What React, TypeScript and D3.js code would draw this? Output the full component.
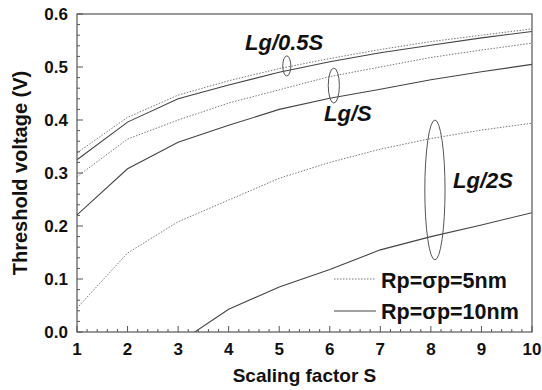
import React from 'react';
import * as d3 from 'd3';

const scaleS = [1, 2, 3, 4, 5, 6, 7, 8, 9, 10];

// Lg/0.5S
const half5nm = [0.338, 0.405, 0.447, 0.474, 0.497, 0.516, 0.533, 0.548, 0.56, 0.572];
const half10nm = [0.325, 0.396, 0.44, 0.466, 0.49, 0.51, 0.527, 0.541, 0.555, 0.567];
// Lg/S
const full5nm = [0.293, 0.364, 0.4, 0.432, 0.457, 0.482, 0.5, 0.518, 0.532, 0.545];
const full10nm = [0.221, 0.308, 0.358, 0.39, 0.42, 0.441, 0.458, 0.476, 0.491, 0.505];
// Lg/2S
const double5nm = [0.045, 0.149, 0.208, 0.249, 0.29, 0.32, 0.345, 0.365, 0.381, 0.394];
const double10nm = [-0.02, -0.02, -0.021, 0.043, 0.085, 0.118, 0.155, 0.18, 0.202, 0.225];

const seriesList = [
  { values: half5nm, dotted: true },
  { values: half10nm, dotted: false },
  { values: full5nm, dotted: true },
  { values: full10nm, dotted: false },
  { values: double5nm, dotted: true },
  { values: double10nm, dotted: false },
];

// ellipse groups, centre and radii in data units
const groups = [
  { label: 'Lg/0.5S', cx: 5.15, cy: 0.502, rx: 0.08, ry: 0.019, tx: 245, ty: 50 },
  { label: 'Lg/S', cx: 6.08, cy: 0.465, rx: 0.11, ry: 0.033, tx: 324, ty: 121 },
  { label: 'Lg/2S', cx: 8.08, cy: 0.268, rx: 0.2, ry: 0.132, tx: 453, ty: 188 },
];

const yTicks = [0, 0.1, 0.2, 0.3, 0.4, 0.5, 0.6];
const legendLabels = ['Rp=σp=5nm', 'Rp=σp=10nm'];

const W = 542, H = 390;
const m = { left: 77, right: 10, top: 14, bottom: 58 };
const FONT = 'Arial, "Liberation Sans", sans-serif';

export default function App() {
  const x = d3.scaleLinear().domain([1, 10]).range([m.left, W - m.right]);
  const y = d3.scaleLinear().domain([0, 0.6]).range([H - m.bottom, m.top]);
  const line = d3.line<number>().x((_, i) => x(scaleS[i])).y(d => y(d));

  const xMinor = d3.range(1, 10.001, 0.2);
  const yMinor = d3.range(0, 0.6001, 0.02);
  const x0 = x(1), x1 = x(10), y0 = y(0), y1 = y(0.6);

  return (
    <svg width={W} height={H} style={{ position: 'absolute', left: 0, top: 0, background: '#fff' }}>
      <defs>
        <clipPath id="plot">
          <rect x={x0} y={y1} width={x1 - x0} height={y0 - y1} />
        </clipPath>
      </defs>

      <g clipPath="url(#plot)">
        {seriesList.map((s, i) => (
          <path key={i} d={line(s.values) || ''} fill="none"
            stroke={s.dotted ? '#777' : '#444'} strokeWidth={s.dotted ? 1 : 1.1}
            strokeDasharray={s.dotted ? '1.5,1.5' : undefined} />
        ))}
      </g>

      {/* ticks point inward, major every 1 / 0.1 */}
      {xMinor.map((t, i) => {
        const major = Math.abs(t - Math.round(t)) < 1e-6;
        return <line key={'xt' + i} x1={x(t)} x2={x(t)} y1={y0} y2={y0 - (major ? 6 : 3)} stroke="#555" />;
      })}
      {yMinor.map((t, i) => {
        const major = Math.abs(t * 10 - Math.round(t * 10)) < 1e-6;
        return <line key={'yt' + i} x1={x0} x2={x0 + (major ? 6 : 3)} y1={y(t)} y2={y(t)} stroke="#555" />;
      })}

      <rect x={x0} y={y1} width={x1 - x0} height={y0 - y1} fill="none" stroke="#555" strokeWidth={1.2} />

      {scaleS.map(t => (
        <text key={'xl' + t} x={x(t)} y={y0 + 23} textAnchor="middle" fontFamily={FONT}
          fontWeight="bold" fontSize={17} fill="#111">{t}</text>
      ))}
      {yTicks.map(t => (
        <text key={'yl' + t} x={x0 - 9} y={y(t) + 6} textAnchor="end" fontFamily={FONT}
          fontWeight="bold" fontSize={17} fill="#111">{t.toFixed(1)}</text>
      ))}

      <text x={(x0 + x1) / 2} y={382} textAnchor="middle" fontFamily={FONT} fontWeight="bold"
        fontSize={19} fill="#111">Scaling factor S</text>
      <text transform={`translate(27,${(y0 + y1) / 2}) rotate(-90)`} textAnchor="middle"
        fontFamily={FONT} fontWeight="bold" fontSize={20} fill="#111">Threshold voltage (V)</text>

      {groups.map(g => (
        <g key={g.label}>
          <ellipse cx={x(g.cx)} cy={y(g.cy)} rx={x(g.cx + g.rx) - x(g.cx)} ry={y(0) - y(g.ry)}
            fill="none" stroke="#555" strokeWidth={1} />
          <text x={g.tx} y={g.ty} fontFamily={FONT} fontWeight="bold" fontStyle="italic"
            fontSize={22} fill="#111">{g.label}</text>
        </g>
      ))}

      {/* legend */}
      <line x1={334} x2={376} y1={279} y2={279} stroke="#777" strokeDasharray="1.5,1.5" />
      <text x={381} y={288} fontFamily={FONT} fontWeight="bold" fontSize={21.5} fill="#111">{legendLabels[0]}</text>
      <line x1={334} x2={376} y1={311} y2={311} stroke="#444" />
      <text x={381} y={319} fontFamily={FONT} fontWeight="bold" fontSize={21.5} fill="#111">{legendLabels[1]}</text>
    </svg>
  );
}
